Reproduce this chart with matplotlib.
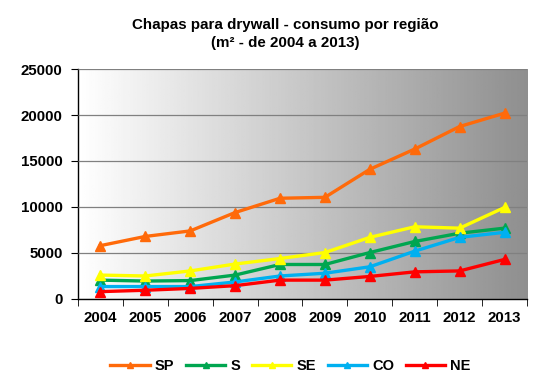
import numpy as np
import matplotlib
matplotlib.use("Agg")
import matplotlib.pyplot as plt

years = ["2004", "2005", "2006", "2007", "2008", "2009", "2010", "2011", "2012", "2013"]
sp = [5800, 6800, 7400, 9400, 10950, 11050, 14100, 16300, 18750, 20200]
s = [2050, 1950, 2000, 2600, 3750, 3750, 5050, 6250, 7150, 7700]
se = [2600, 2500, 3050, 3800, 4400, 5050, 6700, 7850, 7700, 9950]
co = [1350, 1350, 1350, 1850, 2500, 2800, 3500, 5200, 6700, 7250]
ne = [800, 950, 1150, 1450, 2050, 2050, 2450, 2950, 3050, 4300]

series = [("SP", sp, "#ff6a0a"), ("S", s, "#00a650"), ("SE", se, "#ffff00"),
          ("CO", co, "#00b0f0"), ("NE", ne, "#ff0000")]

plt.rcParams["font.family"] = ["Liberation Sans", "DejaVu Sans"]
plt.rcParams["font.weight"] = "bold"

fig = plt.figure(figsize=(5.48, 3.89), dpi=100)
ax = fig.add_axes([0.1423, 0.2314, 0.8194, 0.5912])

# white -> grey gradient background
grad = np.linspace(1.0, 0.56, 256).reshape(1, -1)
ax.imshow(grad, cmap="gray", vmin=0, vmax=1, aspect="auto",
          extent=[0, 1, 0, 1], transform=ax.transAxes, zorder=0)

x = np.arange(len(years))
for name, vals, col in series:
    ax.plot(x, vals, color=col, lw=2.4, marker="^", ms=6.5, label=name, zorder=3)

ax.set_xlim(-0.5, len(years) - 0.5)
ax.set_ylim(0, 25000)
ax.set_yticks(range(0, 25001, 5000))
ax.set_xticks(x)
ax.set_xticklabels(years)
ax.set_xticks(np.arange(-0.5, len(years)), minor=True)
ax.tick_params(axis="x", which="major", length=0, pad=9, labelsize=10.8)
ax.tick_params(axis="x", which="minor", length=5, direction="out")
ax.tick_params(axis="y", length=5, direction="out", labelsize=10.8, pad=6)
for lbl in ax.get_xticklabels() + ax.get_yticklabels():
    lbl.set_fontweight("bold")

ax.grid(axis="y", color="#808080", lw=0.9, zorder=1)
ax.set_axisbelow(False)
for sp_name in ("top", "right"):
    ax.spines[sp_name].set_visible(False)
ax.spines["left"].set_linewidth(1.0)
ax.spines["bottom"].set_linewidth(1.0)

fig.text(0.52, 0.935, "Chapas para drywall - consumo por região", ha="center",
         va="center", fontsize=10.9, fontweight="bold")
fig.text(0.52, 0.89, "(m² - de 2004 a 2013)", ha="center", va="center",
         fontsize=10.9, fontweight="bold")

fig.legend(loc="center", bbox_to_anchor=(0.53, 0.059), ncol=5, frameon=False,
           fontsize=10.5, handlelength=2.7, columnspacing=0.8, handletextpad=0.35,
           markerscale=0.75)

fig.savefig("out.png", dpi=100)
